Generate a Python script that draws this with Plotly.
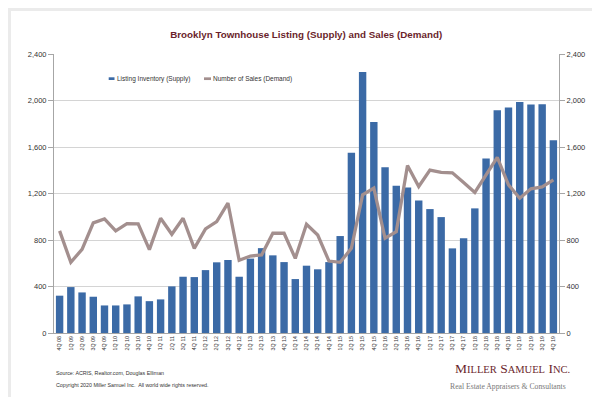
import plotly.graph_objects as go

quarters = ["4Q 08",
            "1Q 09", "2Q 09", "3Q 09", "4Q 09",
            "1Q 10", "2Q 10", "3Q 10", "4Q 10",
            "1Q 11", "2Q 11", "3Q 11", "4Q 11",
            "1Q 12", "2Q 12", "3Q 12", "4Q 12",
            "1Q 13", "2Q 13", "3Q 13", "4Q 13",
            "1Q 14", "2Q 14", "3Q 14", "4Q 14",
            "1Q 15", "2Q 15", "3Q 15", "4Q 15",
            "1Q 16", "2Q 16", "3Q 16", "4Q 16",
            "1Q 17", "2Q 17", "3Q 17", "4Q 17",
            "1Q 18", "2Q 18", "3Q 18", "4Q 18",
            "1Q 19", "2Q 19", "3Q 19", "4Q 19"]

listing_inventory = [321, 395, 349, 312, 237, 237, 246, 315, 274, 289, 401, 484, 481,
                     541, 608, 628, 484, 640, 730, 668, 610, 464, 579, 548, 610,
                     834, 1550, 2245, 1814, 1425, 1266, 1252, 1140, 1066, 997, 728, 814,
                     1072, 1502, 1917, 1940, 1988, 1966, 1968, 1657]

number_of_sales = [878, 608, 720, 947, 981, 878, 941, 938, 717, 987, 849, 987, 728,
                   895, 958, 1118, 625, 662, 671, 858, 858, 642, 935, 843, 619,
                   608, 728, 1188, 1246, 815, 872, 1441, 1260, 1401, 1381, 1378, 1295,
                   1209, 1360, 1510, 1274, 1159, 1240, 1257, 1317]

y_ticks = [0, 400, 800, 1200, 1600, 2000, 2400]

BAR_COLOR = "#3b6aa6"
LINE_COLOR = "#a38f8e"
TITLE_COLOR = "#6b1f2c"
FONT = "Arial, Liberation Sans, sans-serif"
SERIF = "Liberation Serif, Times New Roman, serif"

W, H = 600, 397
L, R, T, B = 46, 49, 46, 72
PW = W - L - R
PH = H - T - B


def px(x):
    return (x - L) / PW


def py(y):
    return (H - B - y) / PH


fig = go.Figure()
fig.add_trace(go.Bar(x=quarters, y=listing_inventory, name="Listing Inventory (Supply)",
                     marker=dict(color=BAR_COLOR, line=dict(width=0)), showlegend=False))
fig.add_trace(go.Scatter(x=quarters, y=number_of_sales, name="Number of Sales (Demand)",
                         mode="lines", line=dict(color=LINE_COLOR, width=3.3),
                         yaxis="y2", showlegend=False))

shapes = [
    dict(type="rect", xref="paper", yref="paper", layer="below",
         x0=px(3), x1=px(597), y0=py(392), y1=py(3),
         fillcolor="white", line=dict(width=0)),
    # custom legend markers
    dict(type="rect", xref="paper", yref="paper",
         x0=px(100.7), x1=px(106.5), y0=py(72), y1=py(69.3),
         fillcolor=BAR_COLOR, line=dict(width=0)),
    dict(type="line", xref="paper", yref="paper",
         x0=px(196), x1=px(203), y0=py(70.7), y1=py(70.7),
         line=dict(color=LINE_COLOR, width=2.7)),
]

annotations = [
    dict(text="Listing Inventory (Supply)", xref="paper", yref="paper",
         x=px(106.7), y=py(70.7), xanchor="left", yanchor="middle", showarrow=False,
         font=dict(family=FONT, size=6.5, color="#333333")),
    dict(text="Number of Sales (Demand)", xref="paper", yref="paper",
         x=px(203), y=py(70.7), xanchor="left", yanchor="middle", showarrow=False,
         font=dict(family=FONT, size=6.5, color="#333333")),
    dict(text="Source: ACRIS, Realtor.com, Douglas Elliman", xref="paper", yref="paper",
         x=px(46), y=py(365), xanchor="left", yanchor="middle", showarrow=False,
         font=dict(family=FONT, size=5.3, color="#333333")),
    dict(text="Copyright 2020 Miller Samuel Inc.  All world wide rights reserved.",
         xref="paper", yref="paper",
         x=px(46), y=py(376.5), xanchor="left", yanchor="middle", showarrow=False,
         font=dict(family=FONT, size=5.3, color="#333333")),
    dict(text="M<span style='font-size:10.5px'>ILLER</span> S<span style='font-size:10.5px'>AMUEL</span> I<span style='font-size:10.5px'>NC.</span>",
         xref="paper", yref="paper",
         x=px(504), y=py(361), xanchor="center", yanchor="middle", showarrow=False,
         font=dict(family=SERIF, size=13.5, color=TITLE_COLOR)),
    dict(text="Real Estate Appraisers &amp; Consultants",
         xref="paper", yref="paper",
         x=px(499.5), y=py(378), xanchor="center", yanchor="middle", showarrow=False,
         font=dict(family=SERIF, size=7.7, color="#777777")),
]

axis_common = dict(
    range=[0, 2400], tickvals=y_ticks, tickformat=",",
    ticks="outside", ticklen=5, tickcolor="#a6a6a6", tickwidth=1,
    showline=True, linecolor="#a6a6a6", linewidth=1,
    tickfont=dict(family=FONT, size=7.5, color="#333333"),
    zeroline=False, fixedrange=True,
)

fig.update_layout(
    width=W, height=H,
    margin=dict(l=L, r=R, t=T, b=B, pad=0),
    paper_bgcolor="#ebebeb",
    plot_bgcolor="white",
    bargap=0.34,
    title=dict(text="<b>Brooklyn Townhouse Listing (Supply) and Sales (Demand)</b>",
               x=0.497, xanchor="center", y=1 - 27 / H, yanchor="middle",
               font=dict(family=FONT, size=9.8, color=TITLE_COLOR)),
    xaxis=dict(type="category", tickangle=-90, showgrid=False,
               showline=True, linecolor="#a6a6a6", linewidth=1,
               ticks="", tickfont=dict(family=FONT, size=5.3, color="#333333"),
               fixedrange=True),
    yaxis=dict(**axis_common, showgrid=True, gridcolor="#d4d4d4", gridwidth=1),
    yaxis2=dict(**axis_common, overlaying="y", side="right", showgrid=False),
    shapes=shapes,
    annotations=annotations,
    showlegend=False,
)

fig.write_html("out.html")
